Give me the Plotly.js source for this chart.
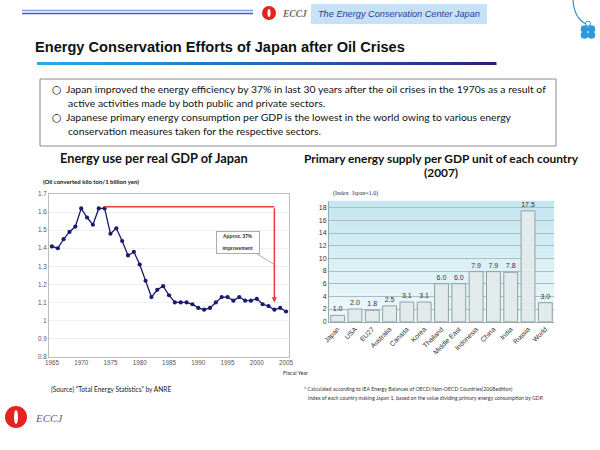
<!DOCTYPE html>
<html><head><meta charset="utf-8">
<script src="https://cdn.plot.ly/plotly-3.0.1.min.js"></script>
<style>html,body{margin:0;padding:0;background:#fff}#chart{width:600px;height:450px}</style>
</head><body><div id="chart"></div>
<script>
// ---- Data: Energy use per real GDP of Japan ----
const years = [1965,1966,1967,1968,1969,1970,1971,1972,1973,1974,1975,1976,1977,1978,1979,1980,1981,1982,1983,1984,1985,1986,1987,1988,1989,1990,1991,1992,1993,1994,1995,1996,1997,1998,1999,2000,2001,2002,2003,2004,2005];
const energyPerGDP = [1.41,1.40,1.45,1.49,1.52,1.62,1.57,1.53,1.62,1.62,1.48,1.51,1.44,1.36,1.38,1.31,1.22,1.13,1.17,1.19,1.14,1.10,1.10,1.10,1.09,1.07,1.06,1.07,1.10,1.13,1.13,1.11,1.13,1.11,1.11,1.12,1.09,1.08,1.06,1.07,1.05];
const leftYTicks = [0.8,0.9,1.0,1.1,1.2,1.3,1.4,1.5,1.6,1.7];
const leftXTicks = [1965,1970,1975,1980,1985,1990,1995,2000,2005];
const improvementFrom = 1974, improvementTo = 2003;

// ---- Data: Primary energy supply per GDP unit (2007) ----
const countries = ["Japan","USA","EU27","Australia","Canada","Korea","Thailand","Middle East","Indonesia","China","India","Russia","World"];
const supplyIndex = [1.0,2.0,1.8,2.5,3.1,3.1,6.0,6.0,7.9,7.9,7.8,17.5,3.0];

// ---- helpers (page pixel -> paper) ----
const W=600,H=450;
const px = x => x/W, py = y => 1 - y/H;

const shapes = [];
const annotations = [];

// header double line
shapes.push({type:'line',xref:'paper',yref:'paper',x0:px(22),x1:px(253),y0:py(10.5),y1:py(10.5),line:{color:'#7f9ee0',width:1.6}});
shapes.push({type:'line',xref:'paper',yref:'paper',x0:px(22),x1:px(253),y0:py(13.5),y1:py(13.5),line:{color:'#3d5fc4',width:1.6}});
// top logo
shapes.push({type:'circle',xref:'paper',yref:'paper',x0:px(262),x1:px(276),y0:py(20),y1:py(6),fillcolor:'#e42320',line:{width:0}});
shapes.push({type:'circle',xref:'paper',yref:'paper',x0:px(267.5),x1:px(270.5),y0:py(17),y1:py(9),fillcolor:'#ffffff',line:{width:0}});
// blue header box
shapes.push({type:'rect',xref:'paper',yref:'paper',x0:px(311),x1:px(487),y0:py(24),y1:py(4),fillcolor:'#c7e1f7',line:{width:0}});
// clover logo
shapes.push({type:'path',xref:'paper',yref:'paper',path:`M ${px(573)} ${py(0)} Q ${px(574)} ${py(18)} ${px(586)} ${py(24)}`,line:{color:'#2f8fd0',width:1.2}});
[[584.5,29],[591.5,29],[584.5,35],[591.5,35]].forEach(c=>{
  shapes.push({type:'circle',xref:'paper',yref:'paper',x0:px(c[0]-3.8),x1:px(c[0]+3.8),y0:py(c[1]+3.8),y1:py(c[1]-3.8),fillcolor:'#2f9ad8',line:{width:0}});
});
shapes.push({type:'circle',xref:'paper',yref:'paper',x0:px(585.5),x1:px(590.5),y0:py(26),y1:py(21),fillcolor:'rgba(0,0,0,0)',line:{color:'#2f9ad8',width:1}});
// gradient underline
const N=40, ux0=37, ux1=496;
const c0=[40,170,232], c1=[38,36,120];
for(let i=0;i<N;i++){
  const t=i/(N-1);
  const col=`rgb(${Math.round(c0[0]+(c1[0]-c0[0])*t)},${Math.round(c0[1]+(c1[1]-c0[1])*t)},${Math.round(c0[2]+(c1[2]-c0[2])*t)})`;
  shapes.push({type:'rect',xref:'paper',yref:'paper',x0:px(ux0+(ux1-ux0)*i/N),x1:px(ux0+(ux1-ux0)*(i+1)/N+0.5),y0:py(65),y1:py(62),fillcolor:col,line:{width:0}});
}
// text box
shapes.push({type:'rect',xref:'paper',yref:'paper',x0:px(40),x1:px(556),y0:py(146),y1:py(79),fillcolor:'rgba(0,0,0,0)',line:{color:'#8a8a8a',width:1}});
// bottom logo
shapes.push({type:'circle',xref:'paper',yref:'paper',x0:px(5),x1:px(27),y0:py(428),y1:py(406),fillcolor:'#e42320',line:{width:0}});
shapes.push({type:'circle',xref:'paper',yref:'paper',x0:px(14),x1:px(18),y0:py(424),y1:py(410),fillcolor:'#ffffff',line:{width:0}});

// right chart background gradient
const bgTop=[196,230,240], bgBot=[236,248,251], NB=30;
for(let i=0;i<NB;i++){
  const t=i/(NB-1);
  const col=`rgb(${Math.round(bgTop[0]+(bgBot[0]-bgTop[0])*t)},${Math.round(bgTop[1]+(bgBot[1]-bgTop[1])*t)},${Math.round(bgTop[2]+(bgBot[2]-bgTop[2])*t)})`;
  shapes.push({type:'rect',xref:'x2 domain',yref:'y2 domain',layer:'below',x0:0,x1:1,y0:1-i/NB,y1:1-(i+1)/NB-0.002,fillcolor:col,line:{width:0}});
}

// improvement red bracket (derived from data)
const peakVal = Math.max(...energyPerGDP) + 0.01;
const endVal = energyPerGDP[years.indexOf(improvementTo)] + 0.04;
shapes.push({type:'line',xref:'x',yref:'y',x0:improvementFrom,x1:improvementTo,y0:peakVal,y1:peakVal,line:{color:'#ee3a3a',width:1.5}});
annotations.push({xref:'x',yref:'y',x:improvementTo,y:endVal,axref:'x',ayref:'y',ax:improvementTo,ay:peakVal,showarrow:true,arrowhead:2,arrowsize:0.7,arrowwidth:1.5,arrowcolor:'#ee3a3a',text:''});
annotations.push({xref:'x',yref:'y',x:improvementTo,y:1.31,ax:-36,ay:-22,showarrow:true,arrowhead:0,arrowwidth:0.8,arrowcolor:'#999',
  text:'<b>Approx. 37%</b><br> <br><b>improvement</b>',font:{family:'Liberation Sans',size:4.8,color:'#333'},bgcolor:'#fff',bordercolor:'#999',borderwidth:0.8,borderpad:2,width:38,align:'center'});

function txt(x,y,text,opt){
  annotations.push(Object.assign({xref:'paper',yref:'paper',x:px(x),y:py(y),text:text,showarrow:false,xanchor:'left',yanchor:'middle',
    font:{family:'Lato',size:10,color:'#000'}},opt||{}));
}
const bodyFont = {family:'Lato',size:10.4,color:'#111'};
const bulletFont = {family:'DejaVu Sans',size:11,color:'#111'};
// header texts
txt(280,14,'<b><i>ECCJ</i></b>',{font:{family:'Liberation Serif',size:9.5,color:'#6a6a6a'}});
txt(399,14,'<i>The Energy Conservation Center Japan</i>',{xanchor:'center',font:{family:'Liberation Sans',size:9.2,color:'#1f3d9c'}});
txt(33,47,'<b>Energy Conservation Efforts of Japan after Oil Crises</b>',{font:{family:'Liberation Sans',size:14.6,color:'#111'}});
// box texts
txt(50,89,'○',{font:bulletFont});
txt(64,89,'Japan improved the energy efficiency by 37% in last 30 years after the oil crises in the 1970s as a result of',{font:bodyFont});
txt(66,103,'active activities made by both public and private sectors.',{font:bodyFont});
txt(50,117,'○',{font:bulletFont});
txt(64,117,'Japanese primary energy consumption per GDP is the lowest in the world owing to various energy',{font:bodyFont});
txt(66,131,'conservation measures taken for the respective sectors.',{font:bodyFont});
// chart titles
txt(154,158,'<b>Energy use per real GDP of Japan</b>',{xanchor:'center',font:{family:'Lato',size:12.8,color:'#111'}});
txt(441,158,'<b>Primary energy supply per GDP unit of each country</b>',{xanchor:'center',font:{family:'Lato',size:11.9,color:'#111'}});
txt(441,172,'<b>(2007)</b>',{xanchor:'center',font:{family:'Lato',size:11.9,color:'#111'}});
txt(41,182,'<b>(Oil converted kilo ton/1 billion yen)</b>',{font:{family:'Lato',size:6,color:'#111'}});
txt(331,193,'(Index&nbsp;&nbsp;Japan=1.0)',{font:{family:'Liberation Serif',size:6,color:'#333'}});
txt(281,373,'Fiscal Year',{font:{family:'Lato',size:5.5,color:'#333'}});
txt(49,389,'(Source) “Total Energy Statistics” by ANRE',{font:{family:'Lato',size:6.6,color:'#222'}});
txt(302,389,'* Calculated according to IEA Energy Balances of OECD/Non-OECD Countries(2008edition)',{font:{family:'Lato',size:5.2,color:'#333'}});
txt(306,398,'Index of each country making Japan 1, based on the value dividing primary energy consumption by GDP.',{font:{family:'Lato',size:5.2,color:'#333'}});
txt(33,418,'<i>ECCJ</i>',{font:{family:'Liberation Serif',size:11,color:'#666'}});

const traces = [
  {type:'scatter',mode:'lines+markers',x:years,y:energyPerGDP,xaxis:'x',yaxis:'y',
   line:{color:'#1b1b6e',width:1.3},marker:{color:'#1b1b6e',size:4.2},hoverinfo:'x+y'},
  {type:'bar',x:countries,y:supplyIndex,xaxis:'x2',yaxis:'y2',
   marker:{color:'#e2eaeb',line:{color:'#91a1a3',width:1}},
   text:supplyIndex.map(v=>v.toFixed(1)),textposition:'outside',cliponaxis:false,
   textfont:{family:'Liberation Sans',size:7,color:'#333'}}
];

const layout = {
  width:600,height:450,margin:{l:0,r:0,t:0,b:0},paper_bgcolor:'#fff',plot_bgcolor:'rgba(0,0,0,0)',
  showlegend:false,bargap:0.2,
  xaxis:{domain:[px(49),px(289)],range:[1964.5,2005.5],tickvals:leftXTicks,ticks:'',showgrid:false,
    showline:true,linecolor:'#bdbdbd',linewidth:1,mirror:true,zeroline:false,
    tickfont:{family:'Liberation Sans',size:6.3,color:'#555'}},
  yaxis:{domain:[py(356.7),py(194)],range:[0.8,1.7],tickvals:leftYTicks,ticks:'',showgrid:true,gridcolor:'#efefef',gridwidth:1,
    showline:true,linecolor:'#bdbdbd',linewidth:1,mirror:true,zeroline:false,
    tickfont:{family:'Liberation Sans',size:6.3,color:'#555'}},
  xaxis2:{domain:[px(329),px(554)],anchor:'y2',tickangle:-45,ticks:'',showline:true,linecolor:'#9aa',
    tickfont:{family:'Liberation Sans',size:6.8,color:'#333'}},
  yaxis2:{domain:[py(321.7),py(200.7)],anchor:'x2',range:[0,19.1],dtick:2,ticks:'',showgrid:true,gridcolor:'#a9bcc2',gridwidth:1,
    showline:true,linecolor:'#9aa',zeroline:false,
    tickfont:{family:'Liberation Sans',size:7,color:'#333'}},
  shapes:shapes,annotations:annotations
};
Plotly.newPlot('chart',traces,layout,{displayModeBar:false,staticPlot:true});
</script></body></html>
